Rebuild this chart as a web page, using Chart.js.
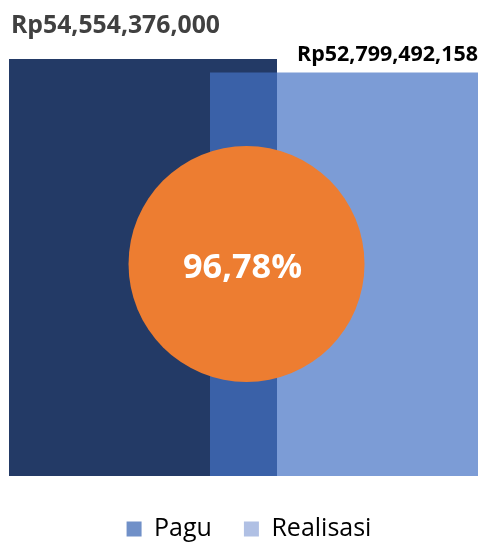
<!DOCTYPE html>
<html>
<head>
<meta charset="utf-8">
<script src="https://cdn.jsdelivr.net/npm/chart.js@4.4.1/dist/chart.umd.min.js"></script>
<style>
  html, body { margin: 0; padding: 0; background: #ffffff; }
  #wrap { width: 494px; height: 543px; position: relative; }
</style>
</head>
<body>
<div id="wrap"><canvas id="c"></canvas></div>
<script>
// ---- data ----
const categories = ["Pagu", "Realisasi"];
const paguValues = [54554376000, null];
const realisasiValues = [null, 52799492158];
const valueLabels = ["Rp54,554,376,000", "Rp52,799,492,158"];
const percentLabel = "96,78%";
// circle marker position (x between categories, y in value units)
const circlePoint = [{ x: 0.515, y: 27740000000, r: 118 }];

const FONT = "'Open Sans', 'Noto Sans', sans-serif";

function fitFont(ctx, text, weight, targetWidth) {
  ctx.font = weight + " 20px " + FONT;
  const w = ctx.measureText(text).width;
  const size = 20 * targetWidth / w;
  return weight + " " + size.toFixed(2) + "px " + FONT;
}

const labelPlugin = {
  id: 'labelPlugin',
  afterDatasetsDraw(chart) {
    const ctx = chart.ctx;
    const pagu = chart.getDatasetMeta(0).data[0];
    const real = chart.getDatasetMeta(1).data[1];
    const bub = chart.getDatasetMeta(2).data[0];
    ctx.save();
    ctx.textBaseline = 'alphabetic';
    ctx.textAlign = 'left';
    ctx.fillStyle = '#404040';
    ctx.font = fitFont(ctx, valueLabels[0], 'bold', 209);
    ctx.fillText(valueLabels[0], pagu.x - pagu.width / 2 + 2, pagu.y - 26);
    ctx.textAlign = 'right';
    ctx.fillStyle = '#000000';
    ctx.font = fitFont(ctx, valueLabels[1], 'bold', 181);
    ctx.fillText(valueLabels[1], real.x + real.width / 2, real.y - 12);
    ctx.textAlign = 'center';
    ctx.fillStyle = '#ffffff';
    ctx.font = fitFont(ctx, percentLabel, 'bold', 119);
    ctx.fillText(percentLabel, bub.x - 4, bub.y + 13.5);
    ctx.restore();
  }
};

new Chart(document.getElementById('c'), {
  data: {
    labels: categories,
    datasets: [
      {
        type: 'bar',
        label: categories[0],
        data: paguValues,
        backgroundColor: '#233a66',
        grouped: false,
        barPercentage: 1.3333,
        categoryPercentage: 1.0,
        clip: false,
        order: 3
      },
      {
        type: 'bar',
        label: categories[1],
        data: realisasiValues,
        backgroundColor: 'rgba(68,114,196,0.7)',
        grouped: false,
        barPercentage: 1.3333,
        categoryPercentage: 1.0,
        clip: false,
        order: 2
      },
      {
        type: 'bubble',
        label: 'persen',
        data: circlePoint,
        xAxisID: 'x2',
        backgroundColor: '#ED7D31',
        borderWidth: 0,
        hoverRadius: 0,
        clip: false,
        order: 1
      }
    ]
  },
  options: {
    responsive: true,
    maintainAspectRatio: false,
    animation: false,
    layout: { autoPadding: false, padding: { left: 42.5, right: 38.5, top: 17.5, bottom: -8.5 } },
    scales: {
      x: { type: 'category', display: false, offset: true, grid: { display: false } },
      x2: { type: 'linear', display: false, min: -0.5, max: 1.5 },
      y: { display: false, min: -1115000000, max: 60000000000 },
      yPad: {
        type: 'linear', position: 'right', display: true,
        ticks: { display: false }, grid: { display: false }, border: { display: false },
        afterFit(scale) { scale.width = 11; }
      }
    },
    plugins: {
      tooltip: { enabled: false },
      legend: {
        position: 'bottom',
        labels: {
          font: { family: FONT, size: 25 },
          color: '#595959',
          boxWidth: 15,
          boxHeight: 15,
          padding: 32,
          generateLabels() {
            return [
              { text: categories[0], fillStyle: '#7090c8', strokeStyle: '#7090c8', lineWidth: 0, datasetIndex: 0 },
              { text: categories[1], fillStyle: '#b0c0e4', strokeStyle: '#b0c0e4', lineWidth: 0, datasetIndex: 1 }
            ];
          }
        }
      }
    }
  },
  plugins: [labelPlugin]
});
</script>
</body>
</html>
